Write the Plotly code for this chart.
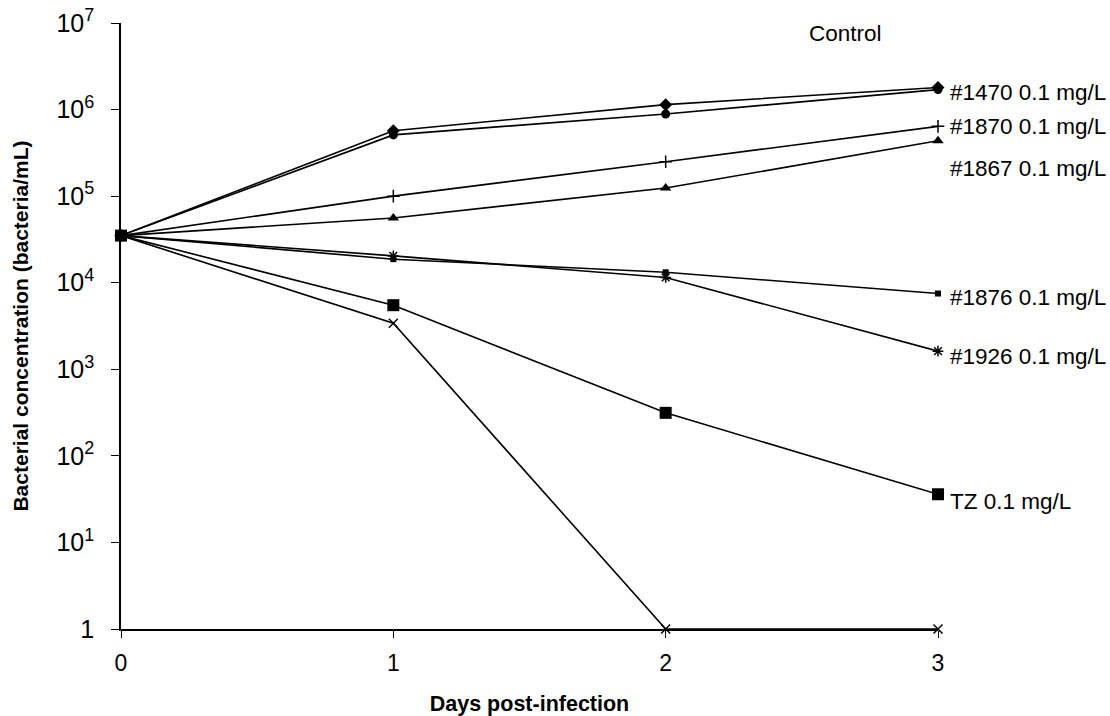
import plotly.graph_objects as go

days = [0, 1, 2, 3]

series_names = ["Control", "#1470 0.1 mg/L", "#1870 0.1 mg/L", "#1867 0.1 mg/L",
                "#1876 0.1 mg/L", "#1926 0.1 mg/L", "#1875 0.1 mg/L", "TZ 0.1 mg/L"]

control = [35000, 570000, 1140000, 1800000]
c1470 = [35000, 510000, 890000, 1700000]
c1870 = [35000, 100000, 250000, 640000]
c1867 = [35000, 56000, 124000, 436000]
c1876 = [35000, 18700, 13200, 7500]
c1926 = [35000, 20400, 11500, 1620]
c1875 = [35000, 3400, 1, 1]
tz = [35000, 5500, 314, 36]

series_values = [control, c1470, c1870, c1867, c1876, c1926, c1875, tz]

ytick_vals = [1, 10, 100, 1000, 10000, 100000, 1000000, 10000000]
ytick_exps = ["", "1", "2", "3", "4", "5", "6", "7"]

SUP = "<sup><span style='font-size:18px'>%s</span></sup>"
ytick_text = ["1" if e == "" else "10" + SUP % e for e in ytick_exps]

# styles (kept separate from data)
markers = [
    dict(symbol="diamond", size=10),
    dict(symbol="circle", size=9),
    dict(symbol="cross-thin-open", size=9, line=dict(width=1.5, color="black")),
    dict(symbol="triangle-up", size=10),
    dict(symbol="square", size=6),
    dict(symbol="asterisk-open", size=9, line=dict(width=1.5, color="black")),
    dict(symbol="x-thin-open", size=9, line=dict(width=1.5, color="black")),
    dict(symbol="square", size=12),
]
# label positions (layout only)
label_pos = [
    (2.66, 6.88, "center", 0),
    (3, 6.20, "left", 10),
    (3, 5.80, "left", 10),
    (3, 5.32, "left", 10),
    (3, 3.83, "left", 10),
    (3, 3.15, "left", 10),
    (3, -0.01, "left", 10),
    (3, 1.47, "left", 10),
]

FONT = "Liberation Sans, Arial, sans-serif"

fig = go.Figure()
for name, vals, mk in zip(series_names, series_values, markers):
    m = dict(color="black")
    m.update(mk)
    fig.add_trace(go.Scatter(x=days, y=vals, mode="lines+markers", name=name,
                             line=dict(color="black", width=1.6), marker=m,
                             cliponaxis=False, showlegend=False))

for name, (lx, ly, anchor, shift) in zip(series_names, label_pos):
    fig.add_annotation(x=lx, y=ly, xref="x", yref="y", text=name, showarrow=False,
                       xanchor=anchor, yanchor="middle", xshift=shift,
                       font=dict(family=FONT, size=22.5, color="black"))

fig.update_layout(
    width=1110, height=716,
    margin=dict(l=121, r=172, t=23, b=87),
    paper_bgcolor="white", plot_bgcolor="white",
    font=dict(family=FONT, size=21, color="black"),
)
fig.update_xaxes(range=[0, 3], tickvals=days, ticktext=[str(d) for d in days],
                 automargin=False,
                 showgrid=False, zeroline=False, showline=True, linecolor="black",
                 linewidth=1.5, ticks="outside", ticklen=7, tickcolor="black",
                 ticklabelstandoff=6,
                 tickfont=dict(family=FONT, size=23),
                 title=dict(text="<b>Days post-infection</b>", standoff=28,
                            font=dict(family=FONT, size=21.5)))
fig.update_yaxes(type="log", range=[0, 7], tickvals=ytick_vals, ticktext=ytick_text,
                 automargin=False,
                 showgrid=False, zeroline=False, showline=True, linecolor="black",
                 linewidth=1.5, ticks="outside", ticklen=8, tickcolor="black",
                 ticklabelstandoff=12,
                 tickfont=dict(family=FONT, size=25),
                 title=dict(text="<b>Bacterial concentration (bacteria/mL)</b>", standoff=22,
                            font=dict(family=FONT, size=21)))

fig.write_html("out.html")
